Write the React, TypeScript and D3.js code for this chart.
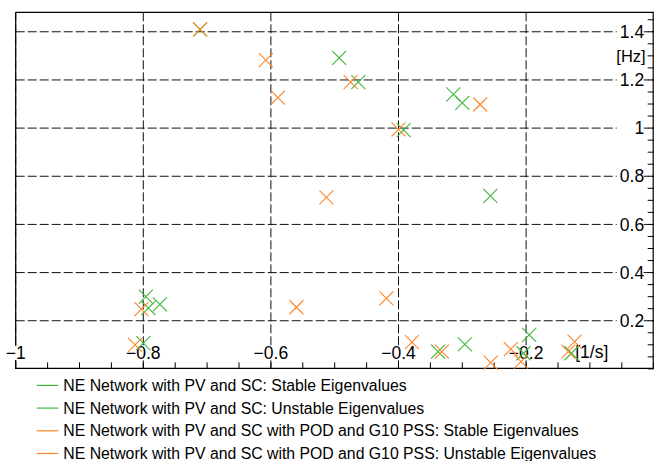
import React from "react";
import * as d3 from "d3";

// Eigenvalues as [real part (1/s), frequency (Hz)]
const pvScStable: [number, number][] = [
  [-0.711, 1.41], [-0.493, 1.292], [-0.463, 1.191], [-0.392, 0.992],
  [-0.314, 1.14], [-0.3, 1.105], [-0.256, 0.719], [-0.796, 0.3],
  [-0.774, 0.268], [-0.792, 0.252], [-0.8, 0.107], [-0.338, 0.072],
  [-0.296, 0.102], [-0.195, 0.141], [-0.204, 0.065], [-0.129, 0.065],
];
const pvScUnstable: [number, number][] = [];
const podPssStable: [number, number][] = [
  [-0.711, 1.41], [-0.608, 1.282], [-0.475, 1.191], [-0.589, 1.127],
  [-0.4, 0.995], [-0.272, 1.098], [-0.513, 0.712], [-0.56, 0.256],
  [-0.419, 0.293], [-0.379, 0.111], [-0.803, 0.248], [-0.813, 0.0996],
  [-0.332, 0.072], [-0.2555, 0.026], [-0.224, 0.082], [-0.208, 0.03],
  [-0.124, 0.113], [-0.134, 0.072],
];
const podPssUnstable: [number, number][] = [];

const xTickLabels = [-1, -0.8, -0.6, -0.4, -0.2];
const yTickLabels = [0.2, 0.4, 0.6, 0.8, 1, 1.2, 1.4];
const legendLabels = [
  "NE Network with PV and SC: Stable Eigenvalues",
  "NE Network with PV and SC: Unstable Eigenvalues",
  "NE Network with PV and SC with POD and G10 PSS: Stable Eigenvalues",
  "NE Network with PV and SC with POD and G10 PSS: Unstable Eigenvalues",
];

const GREEN = "#3fb83a";
const ORANGE = "#ff8526";
const FONT = "'Liberation Sans', Arial, sans-serif";

export default function App() {
  const W = 654;
  const H = 461;
  const left = 15.7;
  const right = 653.7;
  const top = 12.3;
  const bottom = 368.9;

  const x = d3.scaleLinear().domain([-1, 0]).range([left, right]);
  const y = d3.scaleLinear().domain([0, 1]).range([bottom, bottom - 240.8]);
  const yMax = y.invert(top);

  const minorX = d3.range(-1, 0.0001, 0.05);
  const minorY = d3.range(0, yMax, 0.05);

  const fmt = (v: number) => d3.format("~g")(v);

  const series = [
    { data: pvScStable, color: GREEN },
    { data: pvScUnstable, color: GREEN },
    { data: podPssStable, color: ORANGE },
    { data: podPssUnstable, color: ORANGE },
  ];

  const cross = (cx: number, cy: number, r = 7) =>
    `M${cx - r},${cy - r}L${cx + r},${cy + r}M${cx - r},${cy + r}L${cx + r},${cy - r}`;

  const tickFont = 17.5;

  return (
    <svg
      width={W}
      height={H}
      style={{ position: "absolute", left: 0, top: 0, background: "#fff" }}
      fontFamily={FONT}
    >
      {/* grid */}
      <g stroke="#111" strokeWidth={1} strokeDasharray="9,3" fill="none">
        {xTickLabels.map((v) => (
          <line key={`gx${v}`} x1={x(v)} x2={x(v)} y1={top} y2={bottom} />
        ))}
        {yTickLabels.map((v) => (
          <line key={`gy${v}`} x1={left} x2={right} y1={y(v)} y2={y(v)} />
        ))}
      </g>

      {/* frame */}
      <g stroke="#000" strokeWidth={1.2} fill="none">
        <line x1={left} x2={right} y1={top} y2={top} />
        <line x1={left} x2={left} y1={top} y2={bottom} />
        <line x1={left} x2={right} y1={bottom - 0.5} y2={bottom - 0.5} />
        <line x1={right - 0.5} x2={right - 0.5} y1={top} y2={bottom} />
      </g>

      {/* ticks */}
      <g stroke="#000" strokeWidth={1}>
        {minorX.map((v, i) => (
          <line key={`tx${i}`} x1={x(v)} x2={x(v)} y1={bottom} y2={bottom - 6.5} />
        ))}
        {minorY.map((v, i) => (
          <line key={`ty${i}`} x1={right} x2={right - 6} y1={y(v)} y2={y(v)} />
        ))}
      </g>

      {/* x tick labels */}
      <g fontSize={tickFont} textAnchor="middle" fill="#000">
        {xTickLabels.map((v) => (
          <g key={`lx${v}`}>
            <rect x={x(v) - 15} y={bottom - 23} width={30} height={14} fill="#fff" />
            <text x={x(v)} y={bottom - 10}>{fmt(v)}</text>
          </g>
        ))}
      </g>

      {/* y tick labels */}
      <g fontSize={tickFont} textAnchor="end" fill="#000">
        {yTickLabels.map((v) => (
          <g key={`ly${v}`}>
            <rect x={right - 37} y={y(v) - 7} width={27} height={14} fill="#fff" />
            <text x={right - 9.5} y={y(v) + 6.2}>{fmt(v)}</text>
          </g>
        ))}
      </g>

      {/* axis units */}
      <text x={right - 8} y={y(1.3) + 6} fontSize={16.5} textAnchor="end">[Hz]</text>
      <text x={x(-0.123)} y={bottom - 11} fontSize={17.5}>[1/s]</text>

      {/* markers */}
      {series.map((s, si) => (
        <g key={`s${si}`} stroke={s.color} strokeWidth={1.1} fill="none">
          {s.data.map(([re, im], i) => (
            <path key={i} d={cross(x(re), y(im))} />
          ))}
        </g>
      ))}

      {/* legend */}
      <g fontSize={15.8}>
        {legendLabels.map((label, i) => {
          const ly = 385.4 + i * 22.7;
          return (
            <g key={`lg${i}`}>
              <line x1={36.7} x2={58.3} y1={ly} y2={ly} stroke={series[i].color} strokeWidth={1.2} />
              <text x={63.3} y={ly + 5.6} fill="#000">{label}</text>
            </g>
          );
        })}
      </g>
    </svg>
  );
}
